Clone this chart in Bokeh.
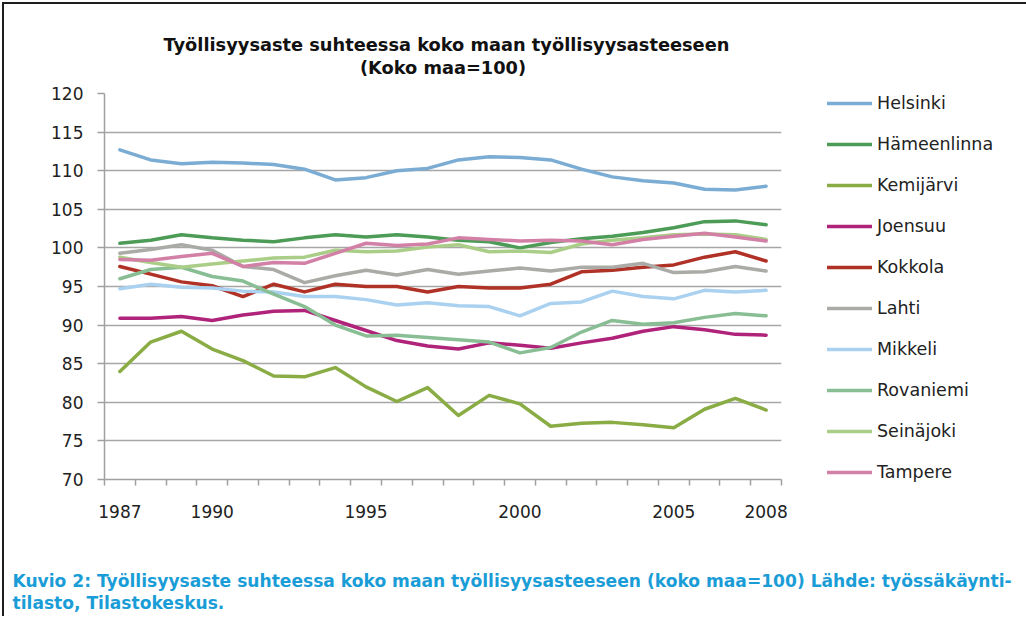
from bokeh.plotting import figure
from bokeh.models import FixedTicker, Legend, LegendItem, Title, Range1d
from bokeh.embed import file_html
from bokeh.resources import INLINE

years = [1987, 1988, 1989, 1990, 1991, 1992, 1993, 1994, 1995, 1996, 1997,
         1998, 1999, 2000, 2001, 2002, 2003, 2004, 2005, 2006, 2007, 2008]
x_tick_years = [1987, 1990, 1995, 2000, 2005, 2008]
y_ticks = [70, 75, 80, 85, 90, 95, 100, 105, 110, 115, 120]

helsinki = [112.7, 111.4, 110.9, 111.1, 111.0, 110.8, 110.2, 108.8, 109.1, 110.0, 110.3,
            111.4, 111.8, 111.7, 111.4, 110.2, 109.2, 108.7, 108.4, 107.6, 107.5, 108.0]
hameenlinna = [100.6, 101.0, 101.7, 101.3, 101.0, 100.8, 101.3, 101.7, 101.4, 101.7, 101.4,
               101.0, 100.8, 100.0, 100.7, 101.2, 101.5, 102.0, 102.6, 103.4, 103.5, 103.0]
kemijarvi = [84.0, 87.8, 89.2, 86.9, 85.4, 83.4, 83.3, 84.5, 82.0, 80.1, 81.9,
             78.3, 80.9, 79.8, 76.9, 77.3, 77.4, 77.1, 76.7, 79.1, 80.5, 79.0]
joensuu = [90.9, 90.9, 91.1, 90.6, 91.3, 91.8, 91.9, 90.6, 89.3, 88.0, 87.3,
           86.9, 87.7, 87.4, 87.0, 87.7, 88.3, 89.2, 89.8, 89.4, 88.8, 88.7]
kokkola = [97.6, 96.6, 95.6, 95.1, 93.7, 95.3, 94.3, 95.3, 95.0, 95.0, 94.3,
           95.0, 94.8, 94.8, 95.3, 96.9, 97.1, 97.5, 97.8, 98.8, 99.5, 98.3]
lahti = [99.3, 99.8, 100.4, 99.7, 97.6, 97.2, 95.5, 96.4, 97.1, 96.5, 97.2,
         96.6, 97.0, 97.4, 97.0, 97.5, 97.5, 98.0, 96.8, 96.9, 97.6, 97.0]
mikkeli = [94.7, 95.3, 94.9, 94.8, 94.4, 94.3, 93.7, 93.7, 93.3, 92.6, 92.9,
           92.5, 92.4, 91.2, 92.8, 93.0, 94.4, 93.7, 93.4, 94.5, 94.3, 94.5]
rovaniemi = [96.0, 97.2, 97.5, 96.3, 95.7, 94.0, 92.4, 90.0, 88.6, 88.7, 88.4,
             88.1, 87.8, 86.4, 87.1, 89.1, 90.6, 90.1, 90.3, 91.0, 91.5, 91.2]
seinajoki = [98.8, 98.1, 97.5, 97.9, 98.3, 98.7, 98.8, 99.7, 99.5, 99.6, 100.1,
             100.4, 99.5, 99.6, 99.4, 100.5, 101.0, 101.3, 101.7, 101.8, 101.7, 101.1]
tampere = [98.5, 98.4, 98.9, 99.3, 97.6, 98.1, 98.0, 99.3, 100.6, 100.3, 100.5,
           101.3, 101.1, 100.9, 101.0, 100.9, 100.4, 101.1, 101.5, 101.9, 101.4, 100.9]

names = ["Helsinki", "Hämeenlinna", "Kemijärvi", "Joensuu", "Kokkola",
         "Lahti", "Mikkeli", "Rovaniemi", "Seinäjoki", "Tampere"]
series = [helsinki, hameenlinna, kemijarvi, joensuu, kokkola,
          lahti, mikkeli, rovaniemi, seinajoki, tampere]
colors = ["#7bacd3", "#4c9b56", "#8aac44", "#b0237a", "#b03126",
          "#aaaaa6", "#aad2f0", "#89be95", "#aacd87", "#d280a6"]

title_lines = ["Työllisyysaste suhteessa koko maan työllisyysasteeseen", "(Koko maa=100)"]
caption_text = ("Kuvio 2: Työllisyysaste suhteessa koko maan työllisyysasteeseen (koko maa=100) Lähde: työssäkäynti-\n"
                "tilasto, Tilastokeskus.")

x_lo, x_hi = years[0] - 0.5, years[-1] + 0.5

p = figure(frame_width=677, frame_height=386, output_backend="svg", toolbar_location=None,
           x_range=Range1d(x_lo, x_hi), y_range=Range1d(70, 120),
           min_border_left=100, min_border_right=239, min_border_top=89, min_border_bottom=137)
p.outline_line_color = None
p.background_fill_color = "white"
p.border_fill_color = "white"
p.styles = {"margin": "2px", "border-top": "2px solid #1e1e1e",
            "border-left": "2px solid #1e1e1e", "border-right": "2px solid #1e1e1e"}

boundaries = [y - 0.5 for y in years] + [years[-1] + 0.5]
xax = p.below[0]
xax.ticker = FixedTicker(ticks=x_tick_years, minor_ticks=boundaries)
xax.major_tick_out = 0
xax.major_tick_in = 0
xax.minor_tick_out = 6
xax.minor_tick_in = 0
xax.minor_tick_line_color = "#a0a0a0"
xax.minor_tick_line_width = 1.5
xax.major_label_standoff = 19

yax = p.left[0]
yax.ticker = FixedTicker(ticks=y_ticks, minor_ticks=[])
yax.major_tick_out = 7
yax.major_tick_in = 0
yax.major_label_standoff = 14

for ax in (xax, yax):
    ax.axis_line_color = "#a0a0a0"
    ax.axis_line_width = 1.5
    ax.major_tick_line_color = "#a0a0a0"
    ax.major_tick_line_width = 1.5
    ax.major_label_text_font = "DejaVu Sans"
    ax.major_label_text_font_size = "17px"
    ax.major_label_text_color = "#222222"

p.xgrid.visible = False
p.ygrid.ticker = FixedTicker(ticks=y_ticks)
p.ygrid.grid_line_color = "#a6a6a6"
p.ygrid.grid_line_width = 1.5

items = []
for name, vals, col in zip(names, series, colors):
    r = p.line(years, vals, line_color=col, line_width=3.5, line_cap="round", line_join="round")
    items.append(LegendItem(label=name, renderers=[r]))

legend = Legend(items=items, location=(46, -3), padding=0, margin=0,
                border_line_color=None, background_fill_alpha=0,
                label_text_font="DejaVu Sans", label_text_font_size="17.5px",
                label_text_color="#222222",
                glyph_width=45, glyph_height=20, label_height=20, spacing=21, label_standoff=5)
p.add_layout(legend, "right")


def spacer(size):
    # a blank, white one-pixel title used only to reserve vertical space in a side panel
    return Title(text=" ", standoff=size, text_font_size="1px", text_color="white")


# above: frame -> spacer -> second title line -> first title line
p.add_layout(spacer(13), "above")
p.add_layout(Title(text=title_lines[1], align="center", standoff=0,
                   text_font="DejaVu Sans", text_font_style="bold", text_font_size="17.8px",
                   text_color="#111111"), "above")
p.add_layout(Title(text=title_lines[0], align="left", offset=59, standoff=0,
                   text_font="DejaVu Sans", text_font_style="bold", text_font_size="17.8px",
                   text_color="#111111"), "above")

# below: x axis -> spacer -> caption
p.add_layout(spacer(46), "below")
p.add_layout(Title(text=caption_text, align="left", offset=-92, standoff=0,
                   text_font="DejaVu Sans", text_font_style="bold", text_font_size="17.1px",
                   text_line_height=1.105, text_color="#1a9dd7"), "below")

open("out.html", "w").write(file_html(p, INLINE))
